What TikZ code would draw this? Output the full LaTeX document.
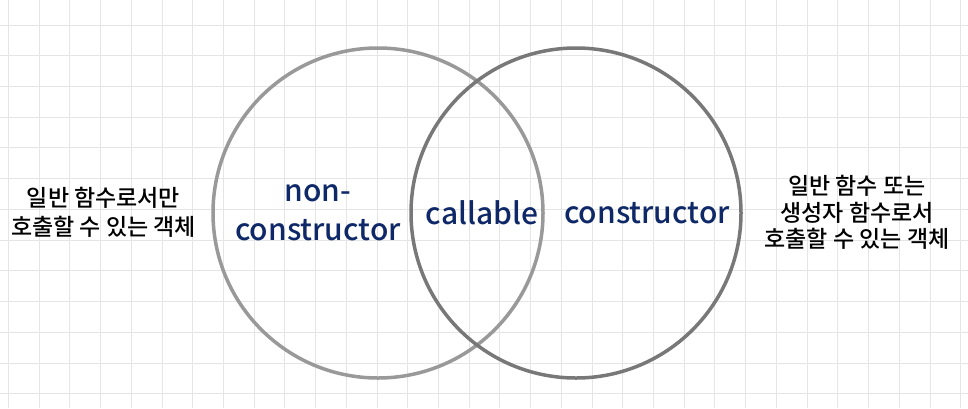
\documentclass[tikz,border=0pt]{standalone}
\usepackage{fontspec}
\setmainfont{Noto Sans CJK KR}
\newfontfamily\medfont{Noto Sans CJK KR Medium}
\definecolor{labelblue}{RGB}{14,40,104}
\begin{document}
\begin{tikzpicture}[x=1pt,y=-1pt,
  gridline/.style={draw=black!10,line width=0.8pt},
  ring/.style={line width=3.5pt},
  setlabel/.style={font=\medfont\fontsize{30}{39}\selectfont,text=labelblue,align=center,inner sep=0pt},
  note/.style={font=\medfont\fontsize{23}{26.5}\selectfont,align=center,inner sep=0pt}]
\useasboundingbox[fill=white] (0,0) rectangle (968,408);
\foreach \gx in {0,...,31} \draw[gridline] (8.3+30.72*\gx,0) -- ++(0,408);
\foreach \gy in {0,...,12} \draw[gridline] (0,25+30.72*\gy) -- ++(968,0);
\draw[ring,draw=black!40] (378,213) circle[radius=165];
\draw[ring,draw=black!53] (576,213) circle[radius=165];
\node[setlabel] (noncon) at (318,213) {non-\\constructor};
\node[setlabel] (callable) at (482,213) {callable};
\node[setlabel] (con) at (647,213) {constructor};
\node[note,font=\medfont\fontsize{23}{28.5}\selectfont] (plainfn) at (103.5,212.5) {일반 함수로서만\\호출할 수 있는 객체};
\node[note] (ctorfn) at (857,212.5) {일반 함수 또는\\생성자 함수로서\\호출할 수 있는 객체};
\end{tikzpicture}
\end{document}
